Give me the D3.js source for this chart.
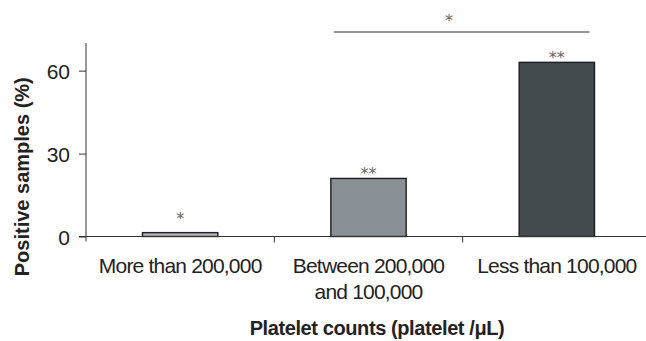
<!DOCTYPE html>
<html>
<head>
<meta charset="utf-8">
<script src="https://cdn.jsdelivr.net/npm/d3@7"></script>
<style>
    body { margin: 0; background: #fff; }
    svg { display: block; font-family: 'Liberation Sans', Arial, sans-serif; }
</style>
</head>
<body>
<svg></svg>
<script>
const WIDTH = 646;
const HEIGHT = 341;

// data
const categories = ['More than 200,000', 'Between 200,000\nand 100,000', 'Less than 100,000'];
const values = [1.4, 21, 63];
const stars = ['*', '**', '**'];
const barColors = ['#b2b5b9', '#899096', '#444b4e'];
const yTicks = [0, 30, 60];
const sigPair = [1, 2];   // bracket between 2nd and 3rd bar
const sigLabel = '*';

const plot = { left: 86, right: 651, top: 43, bottom: 236.5 };

let svg = d3.select('svg')
    .attr('width', WIDTH)
    .attr('height', HEIGHT);

let x = d3.scaleBand()
    .domain(categories)
    .range([plot.left, plot.right])
    .paddingInner(0.6)
    .paddingOuter(0.3);

let y = d3.scaleLinear()
    .domain([0, 70])
    .range([plot.bottom, plot.top]);

const bw = x.bandwidth();
const step = x.step();

// bars
svg.append('g')
    .selectAll('rect')
    .data(values)
    .enter()
    .append('rect')
        .attr('x', (d, i) => x(categories[i]))
        .attr('y', d => y(d))
        .attr('width', bw)
        .attr('height', d => y(0) - y(d))
        .attr('fill', (d, i) => barColors[i])
        .attr('stroke', '#1e1e1e')
        .attr('stroke-width', 1.4);

// stars over bars
svg.append('g')
    .selectAll('text')
    .data(values)
    .enter()
    .append('text')
        .attr('x', (d, i) => x(categories[i]) + bw / 2)
        .attr('y', d => y(Math.max(d, 5)) + 1)
        .attr('text-anchor', 'middle')
        .attr('font-family', 'DejaVu Sans')
        .attr('font-size', 16)
        .attr('fill', '#666')
        .text((d, i) => stars[i]);

// y axis
let yAxis = svg.append('g')
    .attr('transform', `translate(${plot.left},0)`)
    .call(d3.axisLeft(y).tickValues(yTicks).tickSize(7).tickPadding(9));
yAxis.select('.domain').remove();
yAxis.append('line')
    .attr('y1', plot.top)
    .attr('y2', plot.bottom + 5)
    .attr('stroke', '#333');
yAxis.selectAll('.tick line').attr('stroke', '#333');
yAxis.selectAll('.tick text')
    .attr('font-size', 21)
    .attr('font-family', 'Liberation Sans')
    .attr('fill', '#222')
    .attr('dy', '0.36em');

// x axis with ticks at category boundaries
let xAxis = svg.append('g')
    .attr('transform', `translate(0,${plot.bottom})`);
xAxis.append('line')
    .attr('x1', plot.left - 7)
    .attr('x2', plot.right)
    .attr('stroke', '#333');
xAxis.selectAll('.sep')
    .data(categories.slice(1))
    .enter()
    .append('line')
        .attr('class', 'sep')
        .attr('x1', d => x(d) - step * x.paddingInner() / 2)
        .attr('x2', d => x(d) - step * x.paddingInner() / 2)
        .attr('y1', 0)
        .attr('y2', 6)
        .attr('stroke', '#333');

let catLabels = xAxis.selectAll('.cat')
    .data(categories)
    .enter()
    .append('text')
        .attr('class', 'cat')
        .attr('x', d => x(d) + bw / 2)
        .attr('y', 36.5)
        .attr('text-anchor', 'middle')
        .attr('font-size', 21)
        .attr('letter-spacing', -0.8)
        .attr('fill', '#222');
catLabels.selectAll('tspan')
    .data(d => d.split('\n'))
    .enter()
    .append('tspan')
        .attr('x', function() { return this.parentNode.getAttribute('x'); })
        .attr('dy', (d, i) => i === 0 ? 0 : 26)
        .text(d => d);

// significance bracket
const sx1 = x(categories[sigPair[0]]) + 3;
const sx2 = x(categories[sigPair[1]]) + bw - 5;
const sy = y(70) - 11;
svg.append('line')
    .attr('x1', sx1)
    .attr('x2', sx2)
    .attr('y1', sy)
    .attr('y2', sy)
    .attr('stroke', '#333')
    .attr('stroke-width', 1.2);
svg.append('text')
    .attr('x', d3.interpolateNumber(sx1, sx2)(0.45))
    .attr('y', sy - 6)
    .attr('text-anchor', 'middle')
    .attr('font-family', 'DejaVu Sans')
    .attr('font-size', 16)
    .attr('fill', '#666')
    .text(sigLabel);

// axis titles
svg.append('text')
    .attr('transform', `translate(29,${(plot.top + plot.bottom) / 2 + 37}) rotate(-90)`)
    .attr('text-anchor', 'middle')
    .attr('font-size', 20)
    .attr('font-weight', 'bold')
    .attr('fill', '#222')
    .text('Positive samples (%)');

svg.append('text')
    .attr('x', 377)
    .attr('y', 335)
    .attr('text-anchor', 'middle')
    .attr('font-size', 20)
    .attr('font-weight', 'bold')
    .attr('letter-spacing', -0.4)
    .attr('fill', '#222')
    .text('Platelet counts (platelet /\u03bcL)');
</script>
</body>
</html>
